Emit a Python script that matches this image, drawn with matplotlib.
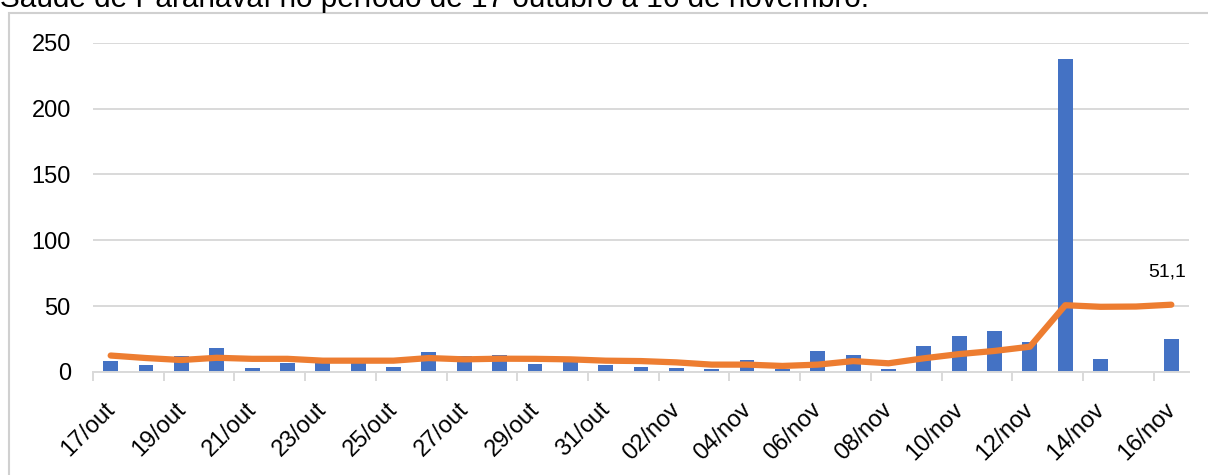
import numpy as np
import matplotlib.pyplot as plt
from matplotlib.patches import Rectangle
from matplotlib.transforms import ScaledTranslation

plt.rcParams['font.family'] = ['Liberation Sans', 'DejaVu Sans']

# daily cases, 17/out .. 16/nov
dias = ['17/out', '18/out', '19/out', '20/out', '21/out', '22/out', '23/out', '24/out',
        '25/out', '26/out', '27/out', '28/out', '29/out', '30/out', '31/out',
        '01/nov', '02/nov', '03/nov', '04/nov', '05/nov', '06/nov', '07/nov', '08/nov',
        '09/nov', '10/nov', '11/nov', '12/nov', '13/nov', '14/nov', '15/nov', '16/nov']
casos = [8, 5, 12, 18, 3, 7, 7, 7, 4, 15, 12, 13, 6, 8, 5,
         4, 3, 2, 9, 2, 16, 13, 2, 20, 27, 31, 23, 238, 10, 0, 25]
media = [12.5, 10.6, 9.1, 10.8, 10.0, 10.0, 8.6, 8.6, 8.6, 10.6, 9.6, 10.1, 10.0, 9.6, 8.6,
         8.3, 7.3, 5.6, 5.6, 4.6, 5.6, 8.3, 6.6, 10.4, 13.6, 16.0, 19.2, 50.7, 49.5, 49.7, 51.1]
titulo = 'Saúde de Paranavaí no período de 17 outubro a 16 de novembro.'

W, H = 1208, 475
fig = plt.figure(figsize=(W / 100, H / 100), dpi=100)
ax = fig.add_axes([93 / W, 103 / H, 1096 / W, 329.3 / H])

x = np.arange(len(dias))
grid_c = '#d9d9d9'
ax.bar(x, casos, width=0.42, color='#4472C4', zorder=2)
ax.plot(x, media, color='#ED7D31', lw=4.5, solid_joinstyle='round',
        solid_capstyle='round', zorder=3)
ax.annotate('51,1', (x[-1], media[-1]), xytext=(-4, 24), textcoords='offset pixels',
            ha='center', va='bottom', fontsize=14)

ax.set_xlim(-0.5, len(dias) - 0.5)
ax.set_ylim(0, 250)
ax.set_yticks(range(0, 251, 50))
ax.grid(axis='y', color=grid_c, lw=1.4, zorder=0)
for s in ['top', 'right', 'left']:
    ax.spines[s].set_visible(False)
ax.spines['bottom'].set_color(grid_c)
ax.spines['bottom'].set_linewidth(1.4)
ax.tick_params(axis='y', length=0, pad=16, labelsize=17)

ax.set_xticks(x[::2])
ax.set_xticklabels(dias[::2], rotation=45, ha='right', va='top',
                   rotation_mode='anchor', fontsize=17)
ax.set_xticks(np.arange(-0.5, len(dias) - 1, 2), minor=True)
ax.tick_params(axis='x', which='major', length=0, pad=10)
ax.tick_params(axis='x', which='minor', length=6.5, width=1.4, color=grid_c)
off = ScaledTranslation(-7 / 100, -13 / 100, fig.dpi_scale_trans)
for lab in ax.get_xticklabels():
    lab.set_transform(lab.get_transform() + off)

# chart frame, cut by the page edge
fig.patches.append(Rectangle((9 / W, -0.1), 1.2, 1 - 13 / H + 0.1,
                             transform=fig.transFigure, fill=False,
                             edgecolor='#d0d0d0', lw=1.5))
fig.text(0, 1 - 7 / H, titulo, fontsize=21.4, ha='left', va='baseline')

fig.savefig('out.png', dpi=100)
